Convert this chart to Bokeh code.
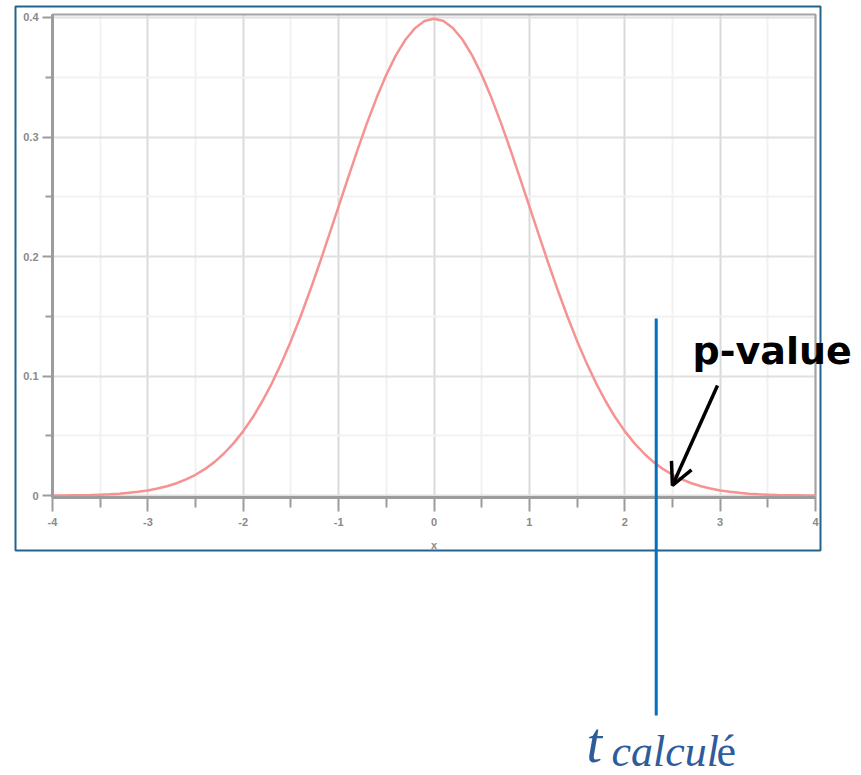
from bokeh.plotting import figure
from bokeh.models import (FixedTicker, Label, Arrow, OpenHead, BoxAnnotation,
                          Range1d, ColumnDataSource)
from bokeh.embed import file_html
from bokeh.resources import INLINE

# Density curve (x, density)
CURVE_X = [-4.0, -3.9, -3.8, -3.7, -3.6, -3.5, -3.4, -3.3, -3.2, -3.1,
           -3.0, -2.9, -2.8, -2.7, -2.6, -2.5, -2.4, -2.3, -2.2, -2.1,
           -2.0, -1.9, -1.8, -1.7, -1.6, -1.5, -1.4, -1.3, -1.2, -1.1,
           -1.0, -0.9, -0.8, -0.7, -0.6, -0.5, -0.4, -0.3, -0.2, -0.1,
           0.0, 0.1, 0.2, 0.3, 0.4, 0.5, 0.6, 0.7, 0.8, 0.9,
           1.0, 1.1, 1.2, 1.3, 1.4, 1.5, 1.6, 1.7, 1.8, 1.9,
           2.0, 2.1, 2.2, 2.3, 2.4, 2.5, 2.6, 2.7, 2.8, 2.9,
           3.0, 3.1, 3.2, 3.3, 3.4, 3.5, 3.6, 3.7, 3.8, 3.9, 4.0]
CURVE_Y = [0.0001, 0.0002, 0.0003, 0.0004, 0.0006, 0.0009, 0.0012, 0.0017, 0.0024, 0.0033,
           0.0044, 0.0060, 0.0079, 0.0104, 0.0136, 0.0175, 0.0224, 0.0283, 0.0355, 0.0440,
           0.0540, 0.0656, 0.0790, 0.0940, 0.1109, 0.1295, 0.1497, 0.1714, 0.1942, 0.2179,
           0.2420, 0.2661, 0.2897, 0.3123, 0.3332, 0.3521, 0.3683, 0.3814, 0.3910, 0.3970,
           0.3989, 0.3970, 0.3910, 0.3814, 0.3683, 0.3521, 0.3332, 0.3123, 0.2897, 0.2661,
           0.2420, 0.2179, 0.1942, 0.1714, 0.1497, 0.1295, 0.1109, 0.0940, 0.0790, 0.0656,
           0.0540, 0.0440, 0.0355, 0.0283, 0.0224, 0.0175, 0.0136, 0.0104, 0.0079, 0.0060,
           0.0044, 0.0033, 0.0024, 0.0017, 0.0012, 0.0009, 0.0006, 0.0004, 0.0003, 0.0002, 0.0001]

# Computed test statistic and where the p-value arrow points
T_CALC = 2.33
ARROW_TIP_X = 2.5

X_TICKS = [-4, -3, -2, -1, 0, 1, 2, 3, 4]
X_TICK_LABELS = ["-4", "-3", "-2", "-1", "0", "1", "2", "3", "4"]
X_MINOR = [-3.5, -2.5, -1.5, -0.5, 0.5, 1.5, 2.5, 3.5]
Y_TICKS = [0, 0.1, 0.2, 0.3, 0.4]
Y_TICK_LABELS = ["0", "0.1", "0.2", "0.3", "0.4"]
Y_MINOR = [0.05, 0.15, 0.25, 0.35]

# Canvas geometry: the plotting frame covers the whole canvas, the chart
# box sits inside it and the annotations around it share the same scales.
W, H = 861, 775
BOX_L, BOX_R, BOX_T, BOX_B = 52, 815, 14, 497
X0, X1 = -4.0, 4.0
Y0, Y1 = -0.0015, 0.4025


def dx(px):
    """Canvas x pixel -> data x."""
    return X0 + (px - BOX_L) * (X1 - X0) / (BOX_R - BOX_L)


def dy(py):
    """Canvas y pixel (from top) -> data y."""
    return Y1 - (py - BOX_T) * (Y1 - Y0) / (BOX_B - BOX_T)


p = figure(width=W, height=H,
           x_range=Range1d(dx(0), dx(W)), y_range=Range1d(dy(H), dy(0)),
           output_backend="svg", toolbar_location=None,
           min_border=0, min_border_left=0, min_border_right=0,
           min_border_top=0, min_border_bottom=0)
p.background_fill_color = "white"
p.border_fill_color = "white"
p.outline_line_color = None

axis_gray = "#9c9c9c"

# Grid restricted to the chart box
grid_ok = True
try:
    p.xgrid.cross_bounds = (Y0, Y1)
    p.ygrid.cross_bounds = (X0, X1)
except AttributeError:
    grid_ok = False

p.xgrid.ticker = FixedTicker(ticks=X_TICKS, minor_ticks=X_MINOR)
p.ygrid.ticker = FixedTicker(ticks=Y_TICKS, minor_ticks=Y_MINOR)
if grid_ok:
    p.xgrid.bounds = (X0, X1)
    p.ygrid.bounds = (Y0, Y1)
    p.xgrid.grid_line_color = "#dadada"
    p.xgrid.grid_line_width = 2
    p.xgrid.minor_grid_line_color = "#f1f1f1"
    p.xgrid.minor_grid_line_width = 2
    p.ygrid.grid_line_color = "#e0e0e0"
    p.ygrid.grid_line_width = 2
    p.ygrid.minor_grid_line_color = "#f2f2f2"
    p.ygrid.minor_grid_line_width = 2
else:
    p.xgrid.visible = False
    p.ygrid.visible = False
    p.segment(x0=X_MINOR, x1=X_MINOR, y0=[Y0] * len(X_MINOR), y1=[Y1] * len(X_MINOR),
              line_color="#f1f1f1", line_width=2)
    p.segment(x0=[X0] * len(Y_MINOR), x1=[X1] * len(Y_MINOR), y0=Y_MINOR, y1=Y_MINOR,
              line_color="#f2f2f2", line_width=2)
    p.segment(x0=X_TICKS, x1=X_TICKS, y0=[Y0] * len(X_TICKS), y1=[Y1] * len(X_TICKS),
              line_color="#dadada", line_width=2)
    p.segment(x0=[X0] * len(Y_TICKS), x1=[X1] * len(Y_TICKS), y0=Y_TICKS, y1=Y_TICKS,
              line_color="#e0e0e0", line_width=2)

# Gray chart box
p.add_layout(BoxAnnotation(left=X0, right=X1, bottom=Y0, top=Y1,
                           fill_alpha=0, line_color="#a3a3a3", line_width=2,
                           line_alpha=1, level="underlay"))

src = ColumnDataSource(dict(x=CURVE_X, y=CURVE_Y))
p.line("x", "y", source=src, line_color="#f79292", line_width=2.5)

# Axes pinned to the chart box
p.xaxis.fixed_location = Y0
p.yaxis.fixed_location = X0
p.xaxis.bounds = (X0, X1)
p.yaxis.bounds = (Y0, Y1)
p.xaxis.ticker = FixedTicker(ticks=X_TICKS, minor_ticks=X_MINOR)
p.xaxis.major_label_overrides = dict(zip(X_TICKS, X_TICK_LABELS))
p.yaxis.ticker = FixedTicker(ticks=Y_TICKS, minor_ticks=Y_MINOR)
p.yaxis.major_label_overrides = dict(zip(Y_TICKS, Y_TICK_LABELS))
for ax in (p.xaxis, p.yaxis):
    ax.axis_line_color = axis_gray
    ax.axis_line_width = 3
    ax.major_tick_line_color = axis_gray
    ax.minor_tick_line_color = axis_gray
    ax.major_tick_line_width = 2
    ax.minor_tick_line_width = 2
    ax.major_tick_in = 0
    ax.minor_tick_in = 0
    ax.major_label_text_color = "#8a8a8a"
    ax.major_label_text_font = "Liberation Sans"
    ax.major_label_text_font_style = "bold"
    ax.major_label_text_font_size = "11px"
p.xaxis.major_tick_out = 14
p.xaxis.minor_tick_out = 10
p.xaxis.major_label_standoff = 6
p.xaxis.axis_label = "x"
p.xaxis.axis_label_text_font = "Liberation Sans"
p.xaxis.axis_label_text_font_size = "11px"
p.xaxis.axis_label_text_font_style = "bold"
p.xaxis.axis_label_text_color = "#8a8a8a"
p.xaxis.axis_label_standoff = 10
p.yaxis.major_tick_out = 10
p.yaxis.minor_tick_out = 7
p.yaxis.major_label_standoff = 4

# Outer frame around the chart
p.add_layout(BoxAnnotation(left=dx(15), right=dx(820), top=dy(6), bottom=dy(550),
                           fill_alpha=0, line_color="#22648c", line_width=2,
                           line_alpha=1))

# Vertical line at the computed statistic
p.add_layout(Arrow(end=None, x_start=T_CALC, y_start=dy(318),
                   x_end=T_CALC, y_end=dy(715),
                   line_color="#0070c0", line_width=3))

# p-value arrow and label
p.add_layout(Arrow(end=OpenHead(size=22, line_width=3.5, line_color="black"),
                   x_start=dx(717), y_start=dy(385),
                   x_end=ARROW_TIP_X, y_end=dy(485),
                   line_color="black", line_width=3.5))
p.add_layout(Label(x=dx(692), y=dy(350), text="p-value",
                   text_font="DejaVu Sans", text_font_style="bold",
                   text_font_size="38px", text_color="black",
                   text_baseline="alphabetic", text_align="left"))

# t_calculé label below the chart
t_color = "#2e5c9a"
p.add_layout(Label(x=dx(586), y=dy(742), text="t",
                   text_font="Liberation Serif", text_font_style="italic",
                   text_font_size="56px", text_color=t_color,
                   text_baseline="alphabetic", text_align="left"))
p.add_layout(Label(x=dx(611), y=dy(751), text="calcul",
                   text_font="Liberation Serif", text_font_style="italic",
                   text_font_size="44px", text_color=t_color,
                   text_baseline="alphabetic", text_align="left"))
p.add_layout(Label(x=dx(716), y=dy(751), text="é",
                   text_font="Liberation Serif", text_font_style="normal",
                   text_font_size="44px", text_color=t_color,
                   text_baseline="alphabetic", text_align="left"))

open("out.html", "w").write(file_html(p, INLINE))
